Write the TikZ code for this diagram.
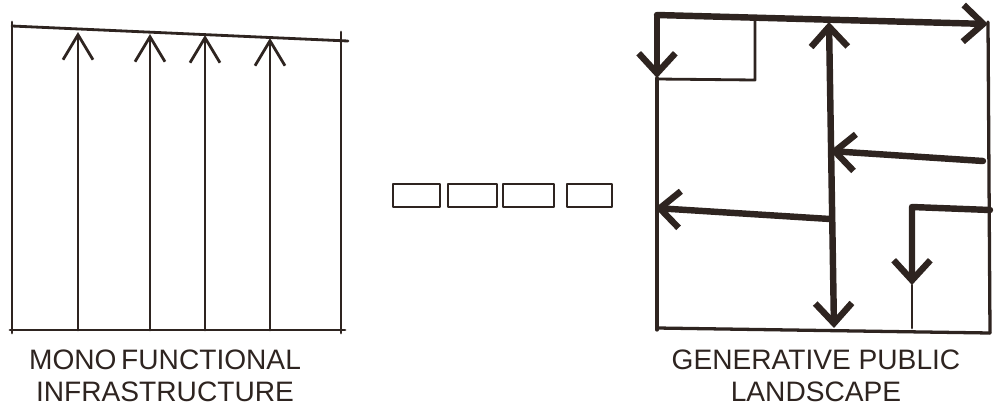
\documentclass[tikz,border=0pt]{standalone}
\usepackage{fontspec}
\setmainfont{Liberation Sans}
\usetikzlibrary{arrows.meta}
\definecolor{ink}{RGB}{46,36,32}

\begin{document}
\begin{tikzpicture}[
  x=0.03cm, y=-0.03cm,
  pen/.style={draw=ink, line width=2.4pt, line cap=round, line join=round},
  frame/.style={draw=ink, line width=2.8pt, line cap=round},
  flow/.style={draw=ink, line width=5.5pt, line cap=round, line join=round},
  thinbarb/.tip={Straight Barb[length=0.75cm, width=0.9cm]},
  barb/.tip={Straight Barb[length=0.6cm, width=1.1cm]},
  lbl/.style={text=ink, align=center, font=\fontsize{24}{27}\selectfont}
]
  \useasboundingbox (0,0) rectangle (996,411);

  % monofunctional: parallel one-way lanes
  \draw[pen] (12,22) -- (12,333);
  \draw[pen] (341,32) -- (341,333);
  \draw[pen] (10,330) -- (345,330);
  \draw[pen] (12,26) -- (348,41);
  \foreach \x/\y in {78/32, 150/34, 205/35, 270/38}
    \draw[pen, -thinbarb] (\x,330) -- (\x,\y);

  % transition
  \foreach \a/\b in {393/440, 448/497, 503/554, 567/612}
    \draw[pen] (\a,184) rectangle (\b,207);

  % generative: branching network
  \draw[frame] (657,78) -- (657,330);
  \draw[frame] (988,22) -- (990,333);
  \draw[frame] (657,328) -- (990,333);
  \draw[pen] (755,19) -- (755,80) -- (657,79);

  \draw[flow, -barb] (657,15) -- (988,24);
  \draw[flow, -barb] (657,17) -- (657,78);
  \draw[flow, barb-barb] (829,22) -- (834,328);
  \draw[flow, -barb] (983,161) -- (830,151);
  \draw[flow, -barb] (830,219) -- (655,208);
  \draw[flow, -barb] (990,210) -- (912,207) -- (912,285);
  \draw[pen] (912,285) -- (912,328);

  % captions
  \node[lbl] (mono) at (165,376) {MONO\,FUNCTIONAL\\INFRASTRUCTURE};
  \node[lbl] (gen) at (816,376) {GENERATIVE PUBLIC\\LANDSCAPE};
\end{tikzpicture}
\end{document}
